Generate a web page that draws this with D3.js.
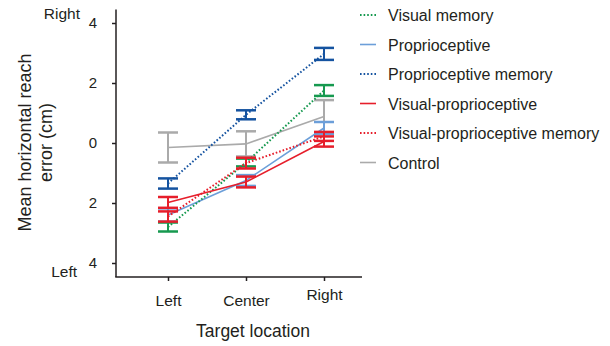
<!DOCTYPE html>
<html><head><meta charset="utf-8">
<script src="https://cdn.jsdelivr.net/npm/d3@7"></script>
<style>
html,body{margin:0;padding:0;background:#fff;}
svg{display:block;font-family:"Liberation Sans",Arial,sans-serif;}
</style></head>
<body>
<svg id="chart" width="610" height="346"></svg>
<script>
const categories = ["Left", "Center", "Right"];
const seriesNames = ["Visual memory", "Proprioceptive", "Proprioceptive memory", "Visual-proprioceptive", "Visual-proprioceptive memory", "Control"];
const visualMemory = [-2.8, -0.65, 1.75];
const visualMemoryErr = [0.15, 0.13, 0.18];
const proprioceptive = [-2.4, -1.25, 0.5];
const proprioceptiveErr = [0.22, 0.18, 0.2];
const proprioceptiveMemory = [-1.35, 0.94, 2.97];
const proprioceptiveMemoryErr = [0.17, 0.15, 0.2];
const visualProprioceptive = [-1.98, -1.3, 0.05];
const visualProprioceptiveErr = [0.18, 0.18, 0.17];
const vpMemory = [-2.45, -0.67, 0.22];
const vpMemoryErr = [0.17, 0.18, 0.15];
const control = [-0.15, -0.03, 0.88];
const controlErr = [0.5, 0.42, 0.55];
const yTicks = [-4, -2, 0, 2, 4];

const series = [
  {name: seriesNames[0], values: visualMemory, err: visualMemoryErr, color: "#16994f", dotted: true},
  {name: seriesNames[1], values: proprioceptive, err: proprioceptiveErr, color: "#6c9fd9", dotted: false},
  {name: seriesNames[2], values: proprioceptiveMemory, err: proprioceptiveMemoryErr, color: "#1553a0", dotted: true},
  {name: seriesNames[3], values: visualProprioceptive, err: visualProprioceptiveErr, color: "#e61e2b", dotted: false},
  {name: seriesNames[4], values: vpMemory, err: vpMemoryErr, color: "#e61e2b", dotted: true},
  {name: seriesNames[5], values: control, err: controlErr, color: "#aaaaaa", dotted: false}
];
const drawOrder = [5, 1, 0, 2, 4, 3];

const svg = d3.select("#chart");
const x = d3.scalePoint().domain(categories).range([168, 324]);
const y = d3.scaleLinear().domain([-4, 4]).range([263, 23]);
const axisColor = "#231f20";

// Axes
const gy = svg.append("g").attr("transform", "translate(116,0)")
  .call(d3.axisLeft(y).tickValues(yTicks).tickFormat(d => Math.abs(d)).tickSize(4).tickPadding(15));
gy.select(".domain").remove();
gy.selectAll(".tick line").attr("stroke", axisColor).attr("stroke-width", 1.5);
gy.selectAll(".tick text").attr("font-size", 15).attr("fill", "#231f20").attr("font-family", "Liberation Sans, Arial, sans-serif");

const gx = svg.append("g").attr("transform", "translate(0,277)")
  .call(d3.axisBottom(x).tickSize(4).tickPadding(14));
gx.select(".domain").remove();
gx.selectAll(".tick line").attr("stroke", axisColor).attr("stroke-width", 1.5);
gx.selectAll(".tick text").attr("font-size", 15.5).attr("fill", "#231f20").attr("font-family", "Liberation Sans, Arial, sans-serif")
  .attr("dy", d => d === "Right" ? "0.35em" : "0.71em");

svg.append("line").attr("x1", 116).attr("x2", 116).attr("y1", y(4.45)).attr("y2", 277)
  .attr("stroke", axisColor).attr("stroke-width", 1.5);
svg.append("line").attr("x1", 115.25).attr("x2", 362).attr("y1", 277).attr("y2", 277)
  .attr("stroke", axisColor).attr("stroke-width", 1.5);

// Direction labels
svg.append("text").attr("x", 80).attr("y", 19).attr("text-anchor", "end").attr("font-size", 15.5).attr("fill", "#231f20").text("Right");
svg.append("text").attr("x", 77).attr("y", 277).attr("text-anchor", "end").attr("font-size", 15.5).attr("fill", "#231f20").text("Left");

// Axis titles
const yt = svg.append("text").attr("transform", "translate(0,142.5) rotate(-90)")
  .attr("text-anchor", "middle").attr("font-size", 18).attr("fill", "#231f20");
yt.append("tspan").attr("x", 0).attr("y", 31).text("Mean horizontal reach");
yt.append("tspan").attr("x", 0).attr("y", 52).text("error (cm)");
svg.append("text").attr("x", 253).attr("y", 337).attr("text-anchor", "middle").attr("font-size", 17.5).attr("fill", "#231f20").text("Target location");

// Data
const line = d3.line().x((d, i) => x(categories[i])).y(d => y(d));
const capW = 10;
drawOrder.forEach(si => {
  const s = series[si];
  const g = svg.append("g");
  s.values.forEach((v, i) => {
    const cx = x(categories[i]);
    g.append("line").attr("x1", cx).attr("x2", cx).attr("y1", y(v - s.err[i])).attr("y2", y(v + s.err[i]))
      .attr("stroke", s.color).attr("stroke-width", 2);
    [v - s.err[i], v + s.err[i]].forEach(e => {
      g.append("line").attr("x1", cx - capW).attr("x2", cx + capW).attr("y1", y(e)).attr("y2", y(e))
        .attr("stroke", s.color).attr("stroke-width", 2.5);
    });
  });
  g.append("path").datum(s.values).attr("d", line).attr("fill", "none")
    .attr("stroke", s.color).attr("stroke-width", s.dotted ? 2 : 1.6)
    .attr("stroke-dasharray", s.dotted ? "1.6,2" : null);
});

// Legend
const leg = svg.append("g");
series.forEach((s, i) => {
  const ly = 15 + i * 29.5;
  leg.append("line").attr("x1", 360).attr("x2", 376).attr("y1", ly).attr("y2", ly)
    .attr("stroke", s.color).attr("stroke-width", s.dotted ? 2 : 1.6)
    .attr("stroke-dasharray", s.dotted ? "1.6,2" : null);
  leg.append("text").attr("x", 388).attr("y", ly + 6).attr("font-size", 16).attr("fill", "#231f20").text(s.name);
});
</script>
</body></html>
